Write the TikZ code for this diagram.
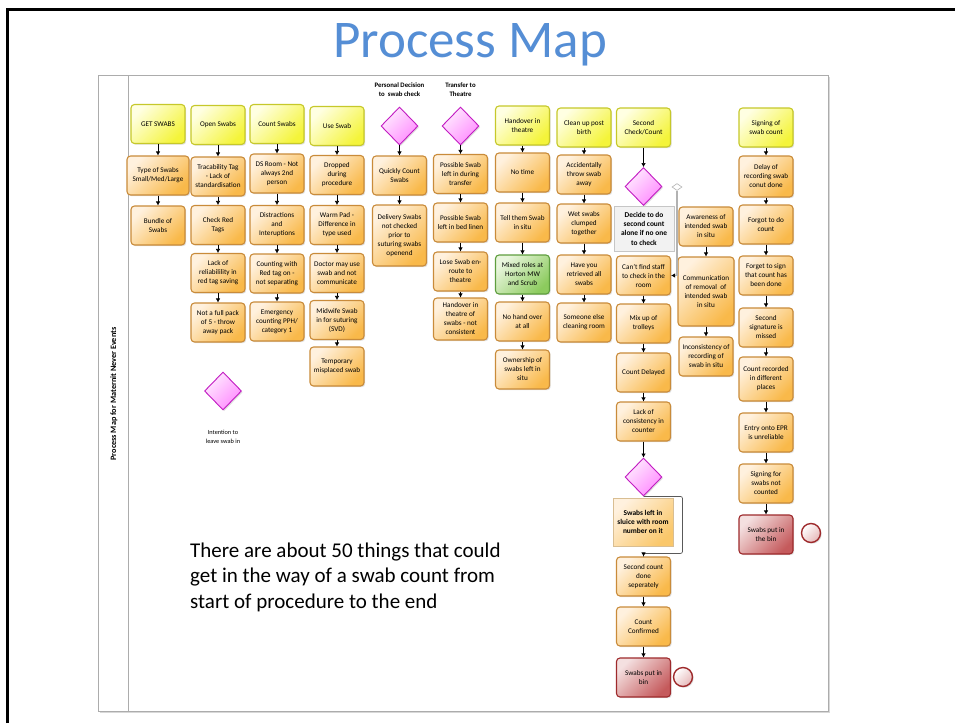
\documentclass[tikz,border=0pt]{standalone}
\usepackage{fontspec}
\setmainfont{Carlito}
\usetikzlibrary{%
    arrows.meta,
    calc,
    shadows,
    shapes.geometric
}
\definecolor{titleblue}{HTML}{558ED5}
\definecolor{orangeedge}{HTML}{C98B3A}
\definecolor{orangelight}{HTML}{FFF1DE}
\definecolor{orangedark}{HTML}{F9B94A}
\definecolor{yellowedge}{HTML}{C6C82A}
\definecolor{yellowlight}{HTML}{FFFFE2}
\definecolor{yellowdark}{HTML}{F4F43A}
\definecolor{greenedge}{HTML}{5E9E3E}
\definecolor{greenlight}{HTML}{E9F6DE}
\definecolor{greendark}{HTML}{8CCB5E}
\definecolor{rededge}{HTML}{9E2A2C}
\definecolor{redlight}{HTML}{F4E0E0}
\definecolor{reddark}{HTML}{C55A5C}
\definecolor{gateedge}{HTML}{C21BC2}
\definecolor{gatelight}{HTML}{FFEAFF}
\definecolor{gatedark}{HTML}{FF8CFF}
\definecolor{sluiceedge}{HTML}{D9BE92}
\definecolor{sluicedark}{HTML}{FAC76A}
\tikzset{headarrow/.style = {-{Latex[length=4pt, width=4.5pt]}, line width=.6pt}}
\tikzset{boxshadow/.style = {drop shadow={shadow xshift=1.2pt, shadow yshift=-1.2pt, opacity=.25}}}
\tikzset{taskbox/.style = {rectangle, rounded corners=3.5pt, line width=1.1pt,
                           minimum width=54pt, minimum height=39pt, inner sep=1.5pt,
                           align=center, font=\fontsize{7.2}{9}\selectfont, boxshadow}}
\tikzset{riskbox/.style = {taskbox, draw=orangeedge, top color=orangelight, bottom color=orangedark, shading angle=45}}
\tikzset{startbox/.style = {taskbox, draw=yellowedge, top color=yellowlight, bottom color=yellowdark, shading angle=45}}
\tikzset{rolebox/.style = {taskbox, draw=greenedge, top color=greenlight, bottom color=greendark, shading angle=45}}
\tikzset{binbox/.style = {taskbox, draw=rededge, top color=redlight, bottom color=reddark, shading angle=45}}
\tikzset{gate/.style = {diamond, draw=gateedge, line width=.9pt, top color=gatelight, bottom color=gatedark,
                        shading angle=45, minimum width=37pt, minimum height=38pt, inner sep=0pt, boxshadow}}
\tikzset{endevent/.style = {circle, draw=rededge, line width=1.4pt, top color=white, bottom color=redlight!70!reddark,
                            shading angle=45, minimum size=19pt, inner sep=0pt, boxshadow}}
\tikzset{notebox/.style = {rectangle, draw=gray!45, fill=gray!10, line width=.6pt, minimum width=60pt,
                           minimum height=45pt, inner sep=1pt, align=center, font=\fontsize{7.4}{9.3}\selectfont\bfseries}}
\tikzset{sluicebox/.style = {rectangle, draw=sluiceedge, line width=.6pt, top color=orangelight, bottom color=sluicedark,
                             shading angle=45, minimum width=60pt, minimum height=48pt, inner sep=1pt,
                             align=center, font=\fontsize{7.4}{9.3}\selectfont\bfseries, boxshadow}}
\tikzset{lanehead/.style = {align=center, font=\fontsize{6.8}{9}\selectfont\bfseries}}

\begin{document}
\begin{tikzpicture}[x=1pt, y=-1pt]
    \useasboundingbox (0,0) rectangle (955,723);
    \fill[white] (0,0) rectangle (955,723);
    \draw[line width=3pt] (7,723) -- (7,9) -- (955,9);
    \node (title) [anchor=base, inner sep=0pt, text=titleblue, font=\fontsize{53}{60}\selectfont] at (470,57) {Process Map};

    \draw[gray!65, line width=.8pt, fill=white, drop shadow={shadow xshift=1.5pt, shadow yshift=-1.5pt, opacity=.3}] (98,75) rectangle (828,711);
    \draw[gray!65, line width=.8pt] (128,75) -- (128,711);
    \node (lanelabel) [rotate=90, font=\fontsize{8.2}{10}\selectfont\bfseries] at (114,394) {Process Map for Maternit Never Events};

    \foreach \Name/\X/\Y/\Text in {%
        getsw/158/124/{GET SWABS},
        opensw/218/125/{Open Swabs},
        countsw/277/124/{Count Swabs},
        usesw/337/126/{Use Swab},
        handover/522.5/125.5/{Handover in\\theatre},
        cleanup/584/127.5/{Clean up post\\birth},
        second/643.5/127.5/{Second\\Check/Count},
        signing/766/127.5/{Signing of\\swab count}%
    }
        \node[startbox] (\Name) at (\X,\Y) {\Text};

    \foreach \Name/\X/\Y/\Text in {%
        bundle/158/225.5/{Bundle of\\Swabs},
        tractag/218/176.5/{Tracability Tag\\- Lack of\\standardisation},
        redtags/218/225/{Check Red\\Tags},
        reliab/218/273/{Lack of\\reliabilility in\\red tag saving},
        fullpack/218/322.5/{Not a full pack\\of 5 - throw\\away pack},
        dsroom/277/173.5/{DS Room - Not\\always 2nd\\person},
        distract/277/225/{Distractions\\and\\Interuptions},
        redtagon/277/273.5/{Counting with\\Red tag on -\\not separating},
        emerg/277/321.5/{Emergency\\counting PPH/\\category 1},
        dropped/337/175/{Dropped\\during\\procedure},
        warmpad/337/225/{Warm Pad -\\Difference in\\type used},
        doctor/337/273/{Doctor may use\\swab and not\\communicate},
        midwife/337/320/{Midwife Swab\\in for suturing\\(SVD)},
        tempmis/337/366.5/{Temporary\\misplaced swab},
        quick/399.5/175.5/{Quickly Count\\Swabs},
        posstrans/460.5/174/{Possible Swab\\left in during\\transfer},
        posslinen/460.5/222.5/{Possible Swab\\left in bed linen},
        lose/460.5/271.5/{Lose Swab en-\\route to\\theatre},
        notime/522.5/172.5/{No time},
        tellsitu/522.5/222.5/{Tell them Swab\\in situ},
        nohand/522.5/321.5/{No hand over\\at all},
        ownership/522.5/369.5/{Ownership of\\swabs left in\\situ},
        accid/584/174.5/{Accidentally\\throw swab\\away},
        wet/584/223.5/{Wet swabs\\clumped\\together},
        retrieved/584/274.5/{Have you\\retrieved all\\swabs},
        someone/584/322.5/{Someone else\\cleaning room},
        cantfind/643.5/275.5/{Can't find staff\\to check in the\\room},
        mixup/643.5/323.5/{Mix up of\\trolleys},
        delayed/643.5/372.5/{Count Delayed},
        lackcons/643.5/421.5/{Lack of\\consistency in\\counter},
        secdone/643.5/576.5/{Second count\\done\\seperately},
        confirmed/643.5/626.5/{Count\\Confirmed},
        awareness/706/226.5/{Awareness of\\intended swab\\in situ},
        inconsist/706/356.5/{Inconsistency of\\recording of\\swab in situ},
        forgot/766/224.5/{Forgot to do\\count},
        forgetsign/766/275.5/{Forget to sign\\that count has\\been done},
        secsig/766/327.5/{Second\\signature is\\missed},
        epr/766/432.5/{Entry onto EPR\\is unreliable},
        signnot/766/483.5/{Signing for\\swabs not\\counted}%
    }
        \node[riskbox] (\Name) at (\X,\Y) {\Text};

    \node[riskbox, minimum width=62pt] (typesw) at (158,175.5) {Type of Swabs\\Small/Med/Large};
    \node[riskbox, minimum height=61pt] (delivery) at (399.5,235.5) {Delivery Swabs\\not checked\\prior to\\suturing swabs\\openend};
    \node[riskbox, minimum height=42pt] (handtheatre) at (460.5,319) {Handover in\\theatre of\\swabs - not\\consistent};
    \node[riskbox, minimum width=56pt, minimum height=69pt] (commun) at (706,291.5) {Communication\\of removal~~of\\intended swab\\in situ};
    \node[riskbox, minimum height=41pt] (delay) at (766,176.5) {Delay of\\recording swab\\conut done};
    \node[riskbox, minimum height=44pt] (recorded) at (766,379) {Count recorded\\in different\\places};
    \node[rolebox] (mixed) at (522.5,274.5) {Mixed roles at\\Horton MW\\and Scrub};
    \node[binbox] (bin1) at (643.5,677.5) {Swabs put in\\bin};
    \node[binbox] (bin2) at (766,534.5) {Swabs put in\\the bin};
    \node[endevent] (end1) at (683,677) {};
    \node[endevent] (end2) at (811,533) {};

    \node[lanehead] (hpers) at (399.5,89.5) {Personal Decision\\to~~swab check};
    \node[lanehead] (htrans) at (460.5,89.5) {Transfer to\\Theatre};
    \node[gate] (dpers) at (399.5,126) {};
    \node[gate] (dtrans) at (460.5,126) {};
    \node[gate] (dsec) at (643.5,186.5) {};
    \node[gate] (dsluice) at (643.5,477) {};
    \node[gate] (dintent) at (223,391) {};
    \node (lintent) [align=center, font=\fontsize{6.3}{9.5}\selectfont] at (223,437) {Intention to\\leave swab in};

    \node[notebox] (decide) at (644,228.5) {Decide to do\\second count\\alone if no one\\to check};
    \node[diamond, draw=gray!60, fill=white, line width=.6pt, minimum width=10pt, minimum height=7pt, inner sep=0pt] (gnote) at (677,187) {};
    \node[sluicebox] (sluice) at (643,522) {Swabs left in\\sluice with room\\number on it};

    \foreach \Source/\Target in {%
        getsw/typesw,
        typesw/bundle,
        opensw/tractag,
        tractag/redtags,
        redtags/reliab,
        reliab/fullpack,
        countsw/dsroom,
        dsroom/distract,
        distract/redtagon,
        redtagon/emerg,
        usesw/dropped,
        dropped/warmpad,
        warmpad/doctor,
        doctor/midwife,
        midwife/tempmis,
        dpers/quick,
        quick/delivery,
        dtrans/posstrans,
        posstrans/posslinen,
        posslinen/lose,
        lose/handtheatre,
        handover/notime,
        notime/tellsitu,
        tellsitu/mixed,
        mixed/nohand,
        nohand/ownership,
        cleanup/accid,
        accid/wet,
        wet/retrieved,
        retrieved/someone,
        second/dsec,
        cantfind/mixup,
        mixup/delayed,
        delayed/lackcons,
        lackcons/dsluice,
        secdone/confirmed,
        confirmed/bin1,
        awareness/commun,
        commun/inconsist,
        signing/delay,
        delay/forgot,
        forgot/forgetsign,
        forgetsign/secsig,
        secsig/recorded,
        recorded/epr,
        epr/signnot,
        signnot/bin2%
    }
        \draw[headarrow] (\Source) to (\Target);

    \draw[gray!60, line width=1.2pt, -{Latex[length=4pt, width=4.5pt, black]}] (gnote.south) |- (cantfind.east);
    \draw[gray!70!black, line width=.7pt, rounded corners=2pt, -{Latex[length=4pt, width=4.5pt, black]}]
        (dsluice.south) -- ++(39,0) -- ++(0,57) -- ++(-39,0) -- (secdone.north);

    \node (remark) [anchor=base west, align=left, inner sep=0pt, font=\fontsize{21}{25.5}\selectfont] at (190,608)
        {There are about 50 things that could\\get in the way of a swab count from\\start of procedure to the end};
\end{tikzpicture}
\end{document}
